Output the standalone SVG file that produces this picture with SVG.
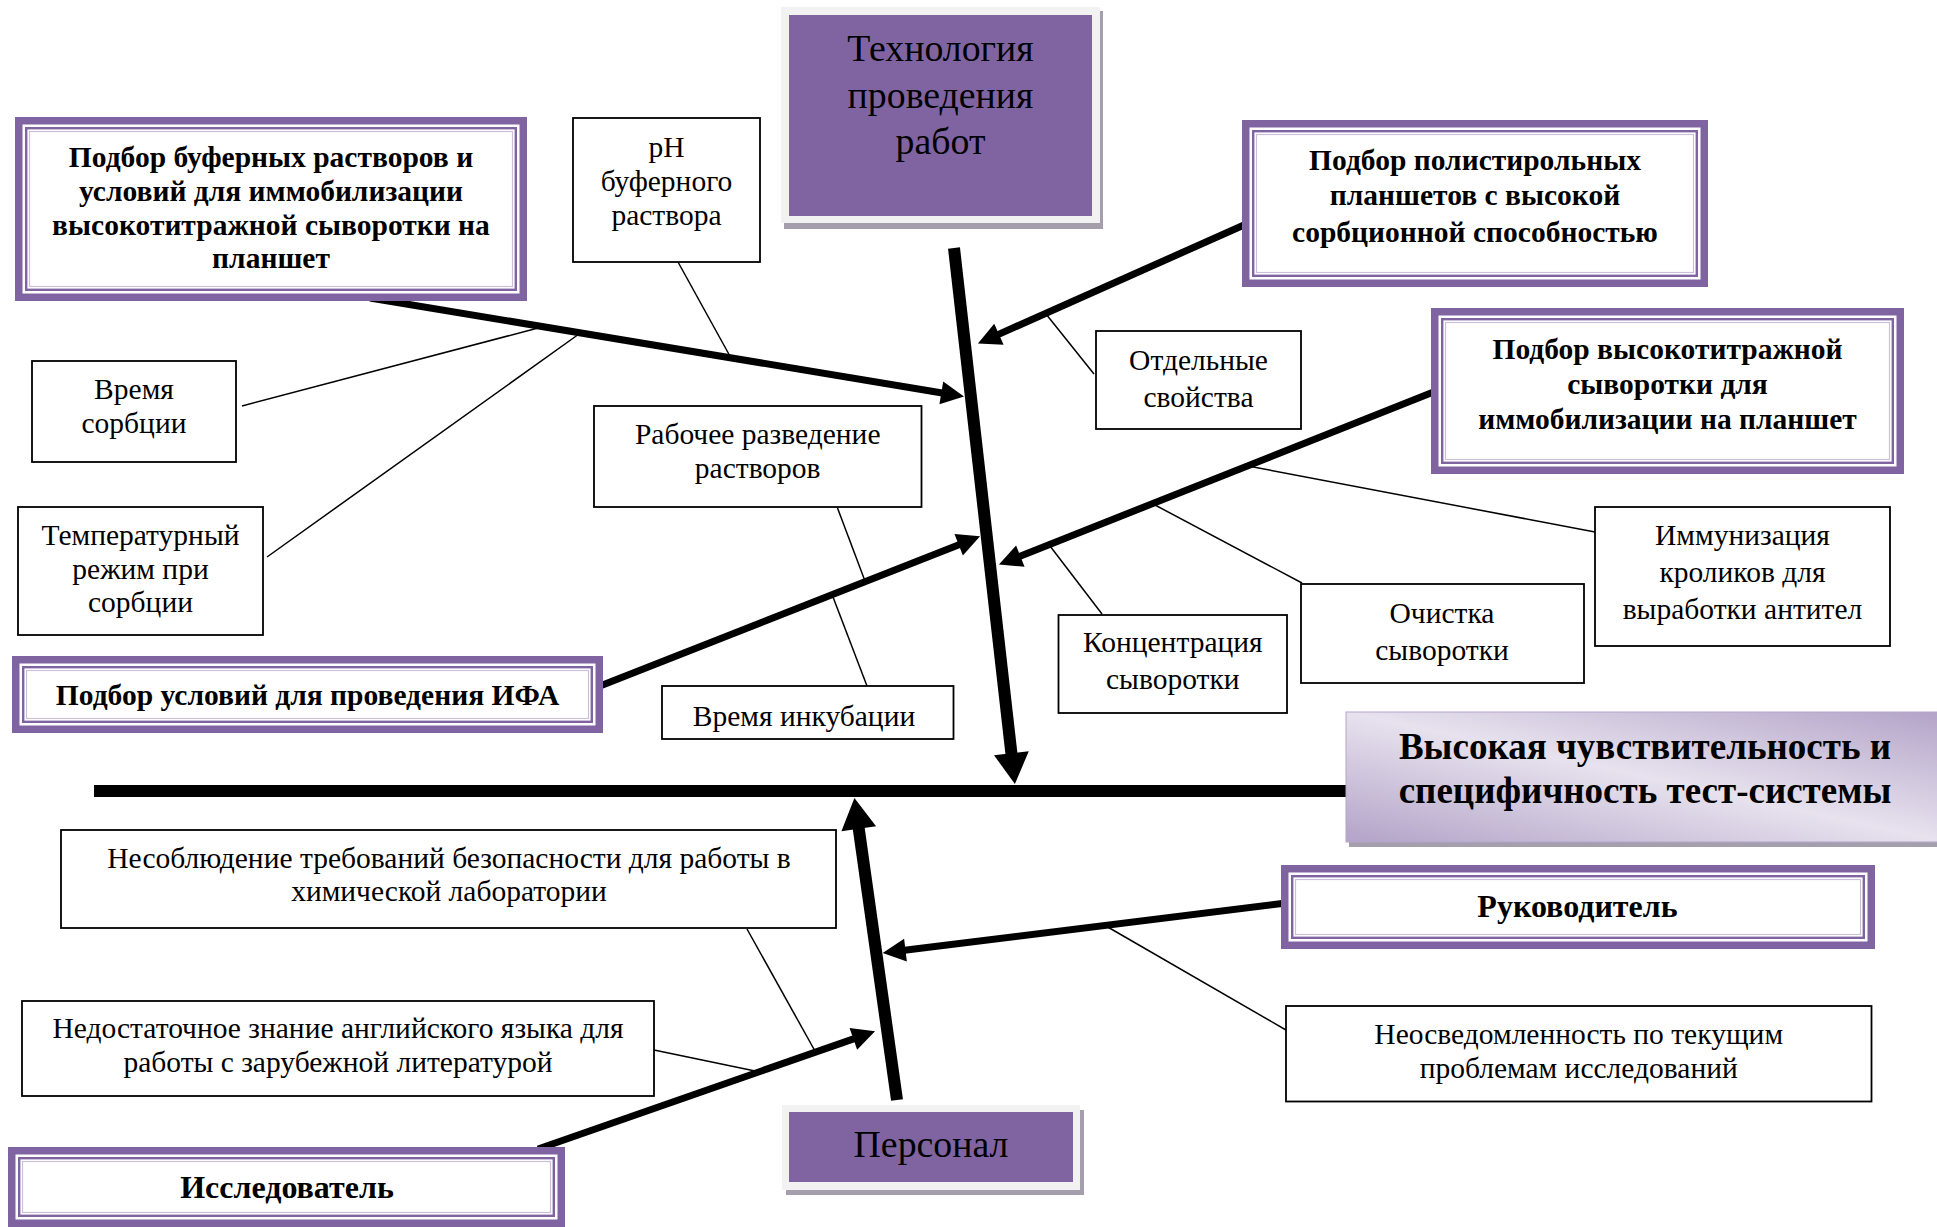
<svg xmlns="http://www.w3.org/2000/svg" width="1937" height="1227" viewBox="0 0 1937 1227">
<defs>
<style>
.t{font-family:"Liberation Serif","Times New Roman",serif;font-size:29.5px;fill:#000;text-anchor:middle}
.b{font-weight:bold}
.big{font-size:37.8px}
.eff{font-size:37px}
.lg{font-size:32px}
.box{fill:#fff;stroke:#000;stroke-width:1.8}
.thin{stroke:#000;stroke-width:1.5;fill:none}
.bone{stroke:#000;stroke-width:12;fill:none}
.boneA{stroke:#000;stroke-width:12;fill:none;marker-end:url(#ahb)}
.arr{stroke:#000;stroke-width:7;fill:none;marker-end:url(#ah)}
.pout{fill:#8064a2}
.pin{fill:#fff}
.pl1{fill:none;stroke:#8064a2;stroke-width:2.4}
.pl2{fill:none;stroke:#cbbfda;stroke-width:1.2}
.frame{fill:#f2f2f2}
.shadow{fill:#a59fad}
.purple{fill:#8064a2}
</style>
<marker id="ah" markerUnits="userSpaceOnUse" markerWidth="30" markerHeight="30" refX="1" refY="11.5" orient="auto" overflow="visible"><path d="M0,0 L23,11.5 L0,23 z" fill="#000"/></marker>
<marker id="ahb" markerUnits="userSpaceOnUse" markerWidth="40" markerHeight="40" refX="1" refY="17.5" orient="auto" overflow="visible"><path d="M0,0 L31,17.5 L0,35 z" fill="#000"/></marker>
<linearGradient id="eff" x1="0" y1="1" x2="1" y2="0">
<stop offset="0" stop-color="#b3a3c8"/>
<stop offset="0.5" stop-color="#e7e2ee"/>
<stop offset="1" stop-color="#b3a3c8"/>
</linearGradient>
</defs>
<rect width="1937" height="1227" fill="#fff"/>

<g id="connectors">
<line class="bone" x1="94" y1="791" x2="1350" y2="791"/>
<path class="boneA" d="M954,248 L1011.5,754.2"/>
<path class="boneA" d="M897,1100 L858.6,827.7"/>
<path class="arr" d="M370,298 L942.3,393"/>
<path class="arr" d="M1244,225 L998,334.6"/>
<path class="arr" d="M600,686 L959.6,544.4"/>
<path class="arr" d="M1436,391 L1019.4,556.5"/>
<path class="arr" d="M538,1149 L854.3,1038.6"/>
<path class="arr" d="M1286,903 L904.5,950.2"/>
<line class="thin" x1="242" y1="406" x2="538" y2="328"/>
<line class="thin" x1="267" y1="557" x2="579" y2="334"/>
<line class="thin" x1="678" y1="262" x2="731" y2="358"/>
<line class="thin" x1="1046" y1="314" x2="1094" y2="374"/>
<line class="thin" x1="837.5" y1="508" x2="865" y2="581"/>
<line class="thin" x1="833" y1="597" x2="867" y2="686"/>
<line class="thin" x1="1248" y1="466" x2="1595" y2="532"/>
<line class="thin" x1="1155" y1="505" x2="1302" y2="583"/>
<line class="thin" x1="1050" y1="546" x2="1102" y2="614"/>
<line class="thin" x1="747" y1="929" x2="815" y2="1051"/>
<line class="thin" x1="654" y1="1050" x2="755" y2="1071"/>
<line class="thin" x1="1106" y1="926" x2="1286" y2="1030"/>
</g>

<g id="n-tech">
<rect class="shadow" x="784" y="11" width="319" height="218"/>
<rect class="frame" x="781" y="7" width="319" height="216"/>
<rect class="purple" x="789" y="15" width="303" height="201"/>
<text class="t big" x="940.5" y="61">Технология</text>
<text class="t big" x="940.5" y="107.5">проведения</text>
<text class="t big" x="940.5" y="154">работ</text>
</g>

<g id="n-buffer">
<rect class="pout" x="15" y="117" width="512" height="184"/>
<rect class="pin" x="22.5" y="124.5" width="497" height="169"/>
<rect class="pl1" x="26.2" y="128.2" width="489.6" height="161.6"/>
<rect class="pl2" x="29.5" y="131.5" width="483" height="155"/>
<text class="t b" x="271" y="167">Подбор буферных растворов и</text>
<text class="t b" x="271" y="201">условий для иммобилизации</text>
<text class="t b" x="271" y="234.5">высокотитражной сыворотки на</text>
<text class="t b" x="271" y="268">планшет</text>
</g>

<g id="n-ph">
<rect class="box" x="573" y="118" width="187" height="144"/>
<text class="t" x="666.5" y="157">pH</text>
<text class="t" x="666.5" y="191">буферного</text>
<text class="t" x="666.5" y="225">раствора</text>
</g>

<g id="n-plates">
<rect class="pout" x="1242" y="120" width="466" height="167"/>
<rect class="pin" x="1249.5" y="127.5" width="451" height="152"/>
<rect class="pl1" x="1253.2" y="131.2" width="443.6" height="144.6"/>
<rect class="pl2" x="1256.5" y="134.5" width="437" height="138"/>
<text class="t b" x="1475" y="170">Подбор полистирольных</text>
<text class="t b" x="1475" y="205">планшетов с высокой</text>
<text class="t b" x="1475" y="241.5">сорбционной способностью</text>
</g>

<g id="n-props">
<rect class="box" x="1096" y="331" width="205" height="98"/>
<text class="t" x="1198.5" y="369.5">Отдельные</text>
<text class="t" x="1198.5" y="406.5">свойства</text>
</g>

<g id="n-serum">
<rect class="pout" x="1431" y="308" width="473" height="166"/>
<rect class="pin" x="1438.5" y="315.5" width="458" height="151"/>
<rect class="pl1" x="1442.2" y="319.2" width="450.6" height="143.6"/>
<rect class="pl2" x="1445.5" y="322.5" width="444" height="137"/>
<text class="t b" x="1667.5" y="359">Подбор высокотитражной</text>
<text class="t b" x="1667.5" y="394">сыворотки для</text>
<text class="t b" x="1667.5" y="429">иммобилизации на планшет</text>
</g>

<g id="n-sorbtime">
<rect class="box" x="32" y="361" width="204" height="101"/>
<text class="t" x="134" y="399">Время</text>
<text class="t" x="134" y="433">сорбции</text>
</g>

<g id="n-temp">
<rect class="box" x="18" y="507" width="245" height="128"/>
<text class="t" x="140.5" y="545">Температурный</text>
<text class="t" x="140.5" y="578.5">режим при</text>
<text class="t" x="140.5" y="611.5">сорбции</text>
</g>

<g id="n-dilution">
<rect class="box" x="594" y="406" width="327.5" height="101"/>
<text class="t" x="757.7" y="444">Рабочее разведение</text>
<text class="t" x="757.7" y="478">растворов</text>
</g>

<g id="n-ifa">
<rect class="pout" x="12" y="656" width="591" height="77"/>
<rect class="pin" x="19.5" y="663.5" width="576" height="62"/>
<rect class="pl1" x="23.2" y="667.2" width="568.6" height="54.6"/>
<rect class="pl2" x="26.5" y="670.5" width="562" height="48"/>
<text class="t b" x="307.5" y="705">Подбор условий для проведения ИФА</text>
</g>

<g id="n-incub">
<rect class="box" x="662" y="686" width="291.5" height="53"/>
<text class="t" x="804" y="726">Время инкубации</text>
</g>

<g id="n-immun">
<rect class="box" x="1595" y="507" width="295" height="139"/>
<text class="t" x="1742.5" y="545">Иммунизация</text>
<text class="t" x="1742.5" y="582">кроликов для</text>
<text class="t" x="1742.5" y="619">выработки антител</text>
</g>

<g id="n-purif">
<rect class="box" x="1301" y="584" width="283" height="99"/>
<text class="t" x="1442" y="623">Очистка</text>
<text class="t" x="1442" y="660">сыворотки</text>
</g>

<g id="n-conc">
<rect class="box" x="1058.5" y="615" width="228.5" height="98"/>
<text class="t" x="1172.8" y="651.5">Концентрация</text>
<text class="t" x="1172.8" y="688.5">сыворотки</text>
</g>

<g id="n-effect">
<rect class="shadow" x="1349" y="716" width="600" height="131"/>
<rect x="1346" y="712" width="600" height="130" fill="url(#eff)" stroke="#b5a6c9" stroke-width="1"/>
<text class="t b eff" x="1645" y="758.5">Высокая чувствительность и</text>
<text class="t b eff" x="1645" y="802.5">специфичность тест-системы</text>
</g>

<g id="n-safety">
<rect class="box" x="61" y="830" width="775" height="98"/>
<text class="t" x="449" y="867.5">Несоблюдение требований безопасности для работы в</text>
<text class="t" x="449" y="901">химической лаборатории</text>
</g>

<g id="n-english">
<rect class="box" x="22" y="1001" width="632" height="95"/>
<text class="t" x="338" y="1038">Недостаточное знание английского языка для</text>
<text class="t" x="338" y="1071.5">работы с зарубежной литературой</text>
</g>

<g id="n-researcher">
<rect class="pout" x="8" y="1147" width="557" height="80"/>
<rect class="pin" x="15.5" y="1154.5" width="542" height="65"/>
<rect class="pl1" x="19.2" y="1158.2" width="534.6" height="57.6"/>
<rect class="pl2" x="22.5" y="1161.5" width="528" height="51"/>
<text class="t b lg" x="287" y="1198">Исследователь</text>
</g>

<g id="n-staff">
<rect class="shadow" x="786" y="1110" width="298" height="85"/>
<rect class="frame" x="782" y="1105" width="298" height="85"/>
<rect class="purple" x="789" y="1112" width="284" height="70"/>
<text class="t big" x="931" y="1157">Персонал</text>
</g>

<g id="n-head">
<rect class="pout" x="1281" y="865" width="594" height="84"/>
<rect class="pin" x="1288.5" y="872.5" width="579" height="69"/>
<rect class="pl1" x="1292.2" y="876.2" width="571.6" height="61.6"/>
<rect class="pl2" x="1295.5" y="879.5" width="565" height="55"/>
<text class="t b lg" x="1577.5" y="917">Руководитель</text>
</g>

<g id="n-unaware">
<rect class="box" x="1286" y="1006" width="585.5" height="95.5"/>
<text class="t" x="1578.7" y="1044">Неосведомленность по текущим</text>
<text class="t" x="1578.7" y="1077.5">проблемам исследований</text>
</g>
</svg>
